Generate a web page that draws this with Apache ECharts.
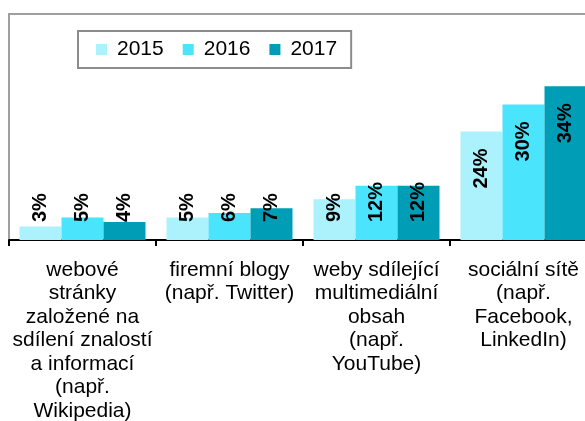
<!DOCTYPE html>
<html>
<head>
<meta charset="utf-8">
<script src="https://cdn.jsdelivr.net/npm/echarts@6/dist/echarts.min.js"></script>
<style>
  html, body { margin: 0; padding: 0; background: #fff; }
  #chart { width: 585px; height: 421px; }
</style>
</head>
<body>
<div id="chart"></div>
<script>
// kategorie (zalomení řádků podle originálu)
const categories = [
  'webové\nstránky\nzaložené na\nsdílení znalostí\na informací\n(např.\nWikipedia)',
  'firemní blogy\n(např. Twitter)',
  'weby sdílející\nmultimediální\nobsah\n(např.\nYouTube)',
  'sociální sítě\n(např.\nFacebook,\nLinkedIn)'
];
const years = ['2015', '2016', '2017'];
const values2015 = [3, 5, 9, 24];
const values2016 = [5, 6, 12, 30];
const values2017 = [4, 7, 12, 34];
const colors = ['#abf2fd', '#4ae4fd', '#009db6'];

const chart = echarts.init(document.getElementById('chart'));

// popisky: malé sloupce od základny, velké uvnitř u vrcholu
const makeData = (arr) => arr.map(v => ({
  value: v,
  label: v > 20
    ? { position: 'insideTop', distance: 17, align: 'right' }
    : { position: 'insideBottom', distance: 18, align: 'left' }
}));

const series = [values2015, values2016, values2017].map((arr, i) => ({
  name: years[i],
  type: 'bar',
  barWidth: 42,
  barGap: '0%',
  itemStyle: { color: colors[i] },
  label: {
    show: true,
    rotate: 90,
    verticalAlign: 'middle',
    formatter: '{c}%',
    color: '#000',
    fontFamily: 'Liberation Sans, Arial, sans-serif',
    fontWeight: 'bold',
    fontSize: 20
  },
  data: makeData(arr)
}));

chart.setOption({
  animation: false,
  textStyle: { fontFamily: 'Liberation Sans, Arial, sans-serif' },
  color: colors,
  legend: {
    left: 78,
    top: 31,
    itemWidth: 11,
    itemHeight: 11,
    itemGap: 19,
    icon: 'rect',
    borderColor: '#8c8c8c',
    borderWidth: 2,
    padding: [8, 14, 8, 18],
    textStyle: { fontSize: 21, color: '#000', padding: [0, 0, 0, 5] },
    data: years
  },
  grid: {
    left: 9,
    top: 14,
    width: 588,
    bottom: 181,
    outerBoundsMode: 'none',
    containLabel: false,
    show: true,
    borderColor: '#a0a0a0',
    borderWidth: 2
  },
  xAxis: {
    type: 'category',
    data: categories,
    axisLine: { lineStyle: { color: '#000', width: 2 } },
    axisTick: { show: true, length: 6, lineStyle: { color: '#000', width: 2 } },
    axisLabel: {
      interval: 0,
      hideOverlap: false,
      color: '#000',
      fontSize: 21,
      lineHeight: 23.5,
      margin: 18
    }
  },
  yAxis: {
    type: 'value',
    min: 0,
    max: 50,
    show: false,
    splitLine: { show: false }
  },
  series: series
});
</script>
</body>
</html>
